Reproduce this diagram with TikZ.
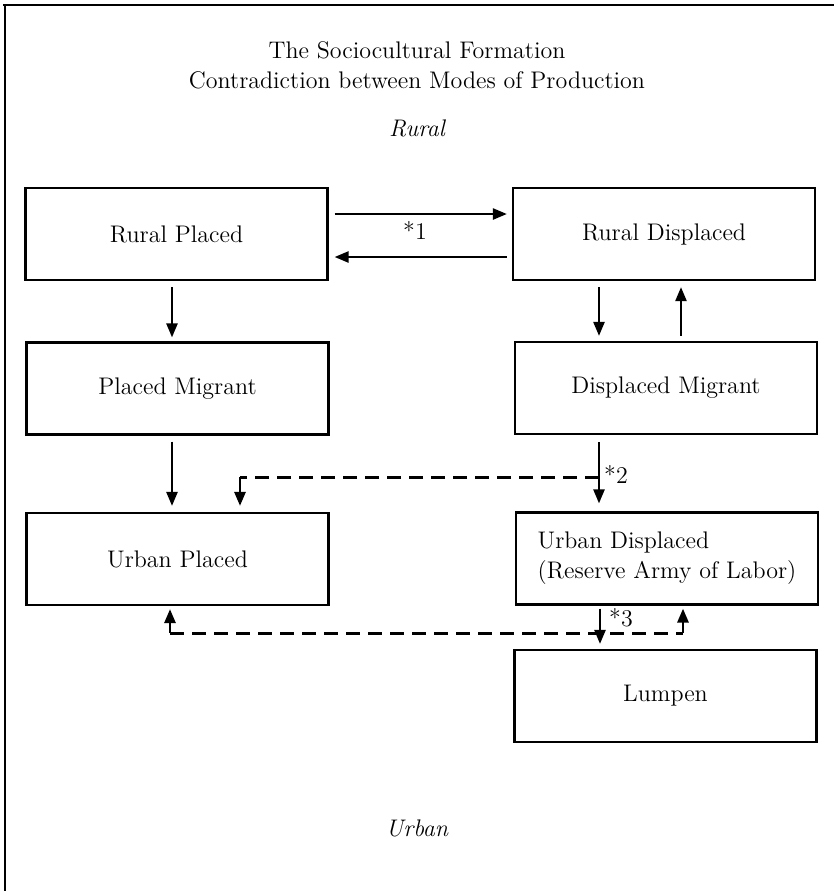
\documentclass[tikz,border=0pt]{standalone}
\usetikzlibrary{arrows.meta,calc}
\begin{document}
\begin{tikzpicture}[x=0.5pt,y=-0.5pt,
  box/.style={draw,line width=1.1pt,rectangle,minimum width=151pt,minimum height=46pt,inner sep=0pt,align=left,font=\fontsize{12}{15}\selectfont},
  txt/.style={font=\fontsize{12}{15}\selectfont,inner sep=0pt},
  arr/.style={line width=1.2pt,-{Triangle[length=7pt,width=5.5pt]}},
  dsh/.style={line width=1.4pt,dash pattern=on 7pt off 4pt},
  tip/.style={-{Triangle[length=7pt,width=5.5pt]}}]
\useasboundingbox (0,0) rectangle (834,891);
% frame
\draw[line width=1.2pt] (3,5) coordinate (f1) -- (834,5) coordinate (f2);
\draw[line width=1.2pt] (5,5) coordinate (f3) -- (5,891) coordinate (f4);
% titles
\node[txt] (t1) at (417,50) {The Sociocultural Formation};
\node[txt] (t2) at (417,80) {Contradiction between Modes of Production};
\node[txt] (rural) at (417,128) {\itshape Rural};
\node[txt] (urban) at (417,828) {\itshape Urban};
% boxes
\node[box] (rp) at (176.5,234) {Rural Placed};
\node[box] (rd) at (664,234) {Rural Displaced};
\node[box] (pm) at (177.5,388.5) {Placed Migrant};
\node[box] (dm) at (666,388) {Displaced Migrant};
\node[box] (up) at (177.5,559) {Urban Placed};
\node[box] (ud) at (667,558.5) {Urban Displaced\\(Reserve Army of Labor)};
\node[box] (lu) at (665.5,696) {Lumpen};
% rural arrows
\draw[arr] ($(rp.east)+(6,-20)$) -- ($(rd.west)+(-5,-20)$);
\draw[arr] ($(rd.west)+(-5,23)$) -- ($(rp.east)+(6,23)$);
\node[txt] (s1) at (415,230) {*1};
\draw[arr] ($(rp.south)+(-4.5,6)$) -- ($(pm.north)+(-5.5,-4)$);
\draw[arr] ($(rd.south)+(-65,6)$) -- ($(dm.north)+(-67,-5)$);
\draw[arr] ($(dm.north)+(15,-5)$) -- ($(rd.south)+(17,6)$);
\draw[arr] ($(pm.south)+(-5.5,6)$) -- ($(up.north)+(-5.5,-6)$);
\draw[arr] ($(dm.south)+(-67,7)$) coordinate (d2a) -- ($(ud.north)+(-68,-8)$) coordinate (d2b);
\node[txt] (s2) at (616,474) {*2};
\coordinate (j2) at ($(d2a)+(0,35)$);
\coordinate (upx) at ($(up.north)+(62.5,0)$);
\draw[dsh] (j2) -- (upx |- j2) coordinate (k2);
\draw[line width=1.4pt,tip] (k2) -- ($(up.north)+(62.5,-6)$);
% urban arrows
\draw[arr] ($(ud.south)+(-67,3)$) -- ($(lu.north)+(-65.5,-5)$);
\node[txt] (s3) at (621,618) {*3};
\coordinate (b1) at ($(up.south)+(-7.5,27)$);
\coordinate (udx) at ($(ud.south)+(16,0)$);
\draw[dsh] (b1) -- (udx |- b1) coordinate (b2);
\draw[line width=1.4pt,tip] (b1) -- ($(up.south)+(-7.5,3)$);
\draw[line width=1.4pt,tip] (b2) -- ($(ud.south)+(16,3)$);
\end{tikzpicture}
\end{document}
